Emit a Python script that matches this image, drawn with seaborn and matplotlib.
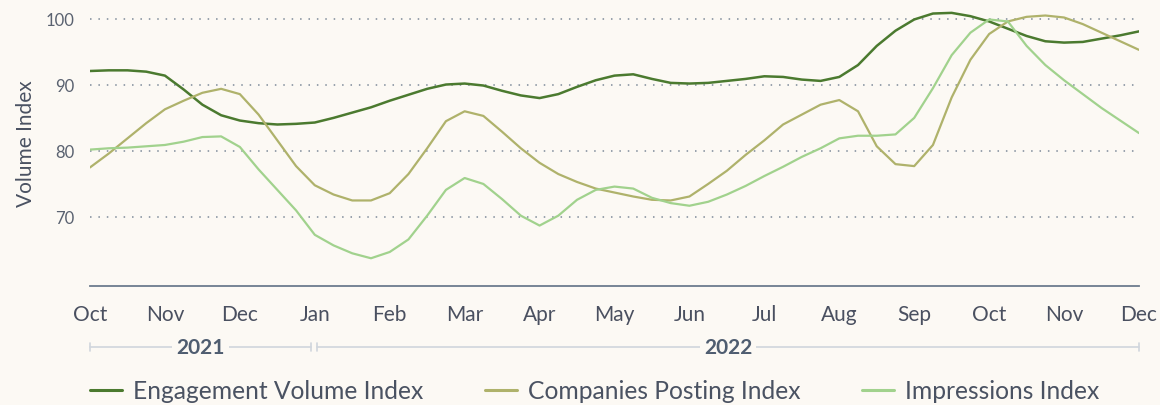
import numpy as np
import pandas as pd
import seaborn as sns
import matplotlib.pyplot as plt
import matplotlib.transforms as mtransforms
from matplotlib.lines import Line2D

# month ticks, Oct 2021 .. Dec 2022
months = ['Oct', 'Nov', 'Dec', 'Jan', 'Feb', 'Mar', 'Apr', 'May',
          'Jun', 'Jul', 'Aug', 'Sep', 'Oct', 'Nov', 'Dec']
# readings every quarter month
steps = np.arange(0, 14.01, 0.25)

engagement = [92.1, 92.2, 92.2, 92.0, 91.4, 89.3, 87.0, 85.4, 84.6, 84.2,
              84.0, 84.1, 84.3, 85.0, 85.8, 86.6, 87.6, 88.5, 89.4, 90.05,
              90.2, 89.9, 89.1, 88.4, 88.0, 88.6, 89.7, 90.7, 91.4, 91.6,
              90.9, 90.3, 90.2, 90.3, 90.6, 90.9, 91.3, 91.2, 90.8, 90.6,
              91.2, 93.0, 95.9, 98.2, 99.9, 100.8, 100.9, 100.4, 99.6, 98.5,
              97.4, 96.6, 96.4, 96.5, 97.0, 97.5, 98.1]
companies = [77.5, 79.6, 81.9, 84.2, 86.3, 87.6, 88.8, 89.4, 88.6, 85.5,
             81.6, 77.7, 74.8, 73.4, 72.5, 72.5, 73.6, 76.5, 80.4, 84.5,
             86.0, 85.3, 82.9, 80.4, 78.2, 76.5, 75.3, 74.3, 73.7, 73.1,
             72.6, 72.5, 73.1, 75.0, 77.0, 79.4, 81.6, 84.0, 85.5, 87.0,
             87.7, 86.0, 80.7, 78.0, 77.7, 80.9, 88.1, 93.8, 97.7, 99.6,
             100.3, 100.5, 100.2, 99.2, 97.9, 96.6, 95.3]
impressions = [80.2, 80.4, 80.5, 80.7, 80.9, 81.4, 82.1, 82.2, 80.6, 77.2,
               74.1, 71.0, 67.3, 65.7, 64.5, 63.75, 64.7, 66.6, 70.2, 74.1,
               75.9, 75.0, 72.7, 70.2, 68.7, 70.2, 72.6, 74.1, 74.6, 74.3,
               72.9, 72.1, 71.7, 72.3, 73.4, 74.7, 76.2, 77.6, 79.1, 80.4,
               81.9, 82.3, 82.3, 82.5, 85.0, 89.5, 94.5, 97.9, 99.9, 99.6,
               95.9, 93.0, 90.7, 88.6, 86.5, 84.6, 82.7]

series_names = ['Engagement Volume Index', 'Companies Posting Index', 'Impressions Index']
colors = ['#4b7a2f', '#afb26b', '#a1d28d']

years = ['2021', '2022']
year_spans = [(0, 2.95), (3.03, 14)]

df = pd.DataFrame({
    'step': np.tile(steps, 3),
    'value': engagement + companies + impressions,
    'series': np.repeat(series_names, len(steps)),
})

bg = '#fcf9f4'
sns.set_style('white')
plt.rcParams['font.family'] = ['Lato', 'DejaVu Sans']

fig = plt.figure(figsize=(11.6, 4.06), dpi=100, facecolor=bg)
ax = fig.add_axes([90 / 1160, 1 - 287 / 406, 1049 / 1160, 287 / 406])
ax.set_facecolor(bg)

sns.lineplot(data=df, x='step', y='value', hue='series', palette=colors,
             linewidth=1.6, ax=ax, legend=False)
ax.lines[0].set_linewidth(1.8)

ax.set_xlim(0, 14)
ax.set_ylim(59.55, 103)
ax.set_xticks(range(len(months)))
ax.set_xticklabels(months)
ax.set_yticks([70, 80, 90, 100])
ax.set_xlabel('')
ax.set_ylabel('Volume Index', fontsize=15, color='#4a5262', labelpad=7)

ax.yaxis.grid(True, linestyle=(0, (1, 4.5)), color='#7d8a99', linewidth=1.1)
ax.xaxis.grid(False)
for s in ['left', 'top', 'right']:
    ax.spines[s].set_visible(False)
ax.spines['bottom'].set_color('#6d7b8d')
ax.spines['bottom'].set_linewidth(1.3)
ax.tick_params(axis='x', length=5, width=1.2, color='#6d7b8d',
               labelsize=15, labelcolor='#4a5060', pad=8)
ax.tick_params(axis='y', length=0, labelsize=12, labelcolor='#5a6270', pad=11)

# year brackets under the months
trans = mtransforms.blended_transform_factory(ax.transData, ax.transAxes)
y0 = -61 / 287
for yr, (a, b) in zip(years, year_spans):
    ax.plot([a, b], [y0, y0], transform=trans, color='#d0d5dd', lw=1.2, clip_on=False)
    for xe in (a, b):
        ax.plot([xe, xe], [y0 - 0.014, y0 + 0.014], transform=trans,
                color='#d0d5dd', lw=1.2, clip_on=False)
    ax.text((a + b) / 2, y0, yr, transform=trans, ha='center', va='center',
            fontsize=15, fontweight='bold', color='#4f5d70',
            bbox=dict(facecolor=bg, edgecolor='none', pad=3))

handles = [Line2D([], [], color=c, lw=2.2) for c in colors]
leg = fig.legend(handles, series_names, loc='center left',
                 bbox_to_anchor=(90 / 1160, 1 - 392 / 406), ncol=3, frameon=False,
                 fontsize=17.7, handlelength=1.3, handletextpad=0.45,
                 columnspacing=2.5, borderpad=0, borderaxespad=0)
for t in leg.get_texts():
    t.set_color('#4a5262')

fig.savefig('out.png', dpi=100, facecolor=bg)
